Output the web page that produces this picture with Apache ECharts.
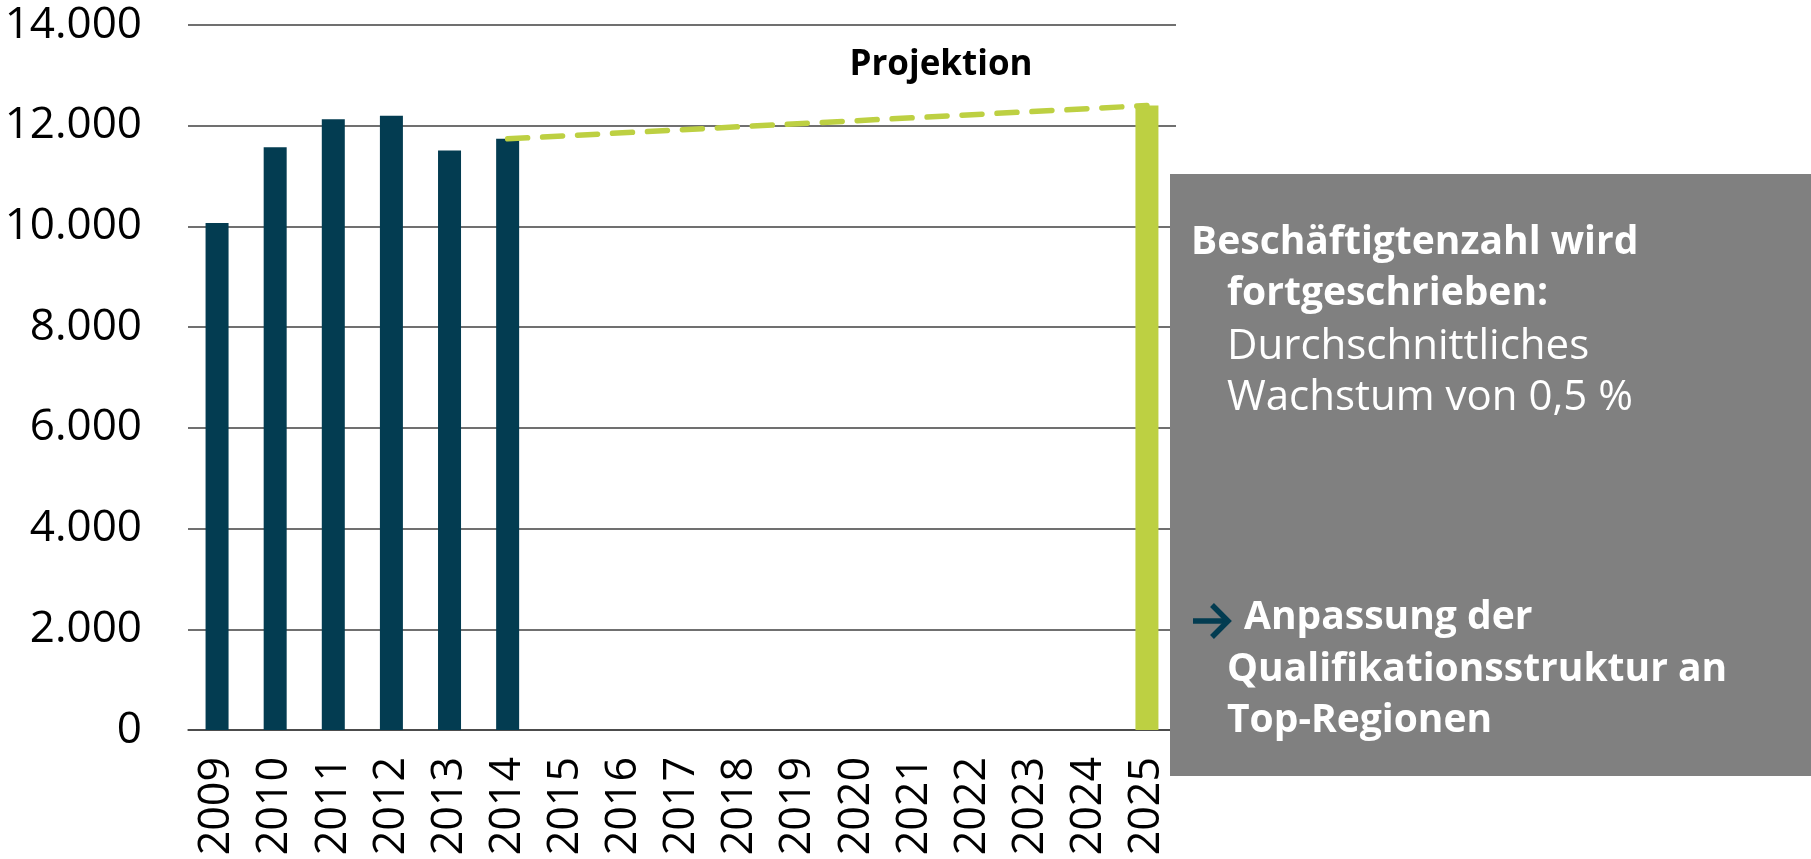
<!DOCTYPE html>
<html>
<head>
<meta charset="utf-8">
<script src="https://cdn.jsdelivr.net/npm/echarts@6/dist/echarts.min.js"></script>
<style>
  html, body { margin: 0; padding: 0; background: #fff; }
  #chart { width: 1811px; height: 859px; }
</style>
</head>
<body>
<div id="chart"></div>
<script>
// Beschäftigte 2009-2014, Projektion 2025
const years = ['2009', '2010', '2011', '2012', '2013', '2014', '2015', '2016', '2017',
  '2018', '2019', '2020', '2021', '2022', '2023', '2024', '2025'];
const actual = [10070, 11570, 12130, 12200, 11510, 11740, null, null, null,
  null, null, null, null, null, null, null, null];
const projected = [null, null, null, null, null, null, null, null, null,
  null, null, null, null, null, null, null, 12400];
const trend = [null, null, null, null, null, 11740, null, null, null,
  null, null, null, null, null, null, null, 12400];
const yMax = 14000;
const yStep = 2000;

const DARK = '#033c51';
const GREEN = '#bdd042';
const FONT = '"Open Sans", sans-serif';

const fmt = v => String(v).replace(/\B(?=(\d{3})+(?!\d))/g, '.');

const chart = echarts.init(document.getElementById('chart'));

const txt = (text, x, y, opts) => Object.assign({
  type: 'text',
  z: 110,
  style: Object.assign({
    text, x, y,
    fill: '#fff',
    fontFamily: FONT,
    fontSize: 39,
    fontWeight: 'bold',
    verticalAlign: 'middle'
  }, opts || {})
});

// pfeil vor "Anpassung der"
const arrowStyle = { stroke: DARK, lineWidth: 5.5, lineCap: 'butt', lineJoin: 'miter', fill: null };

chart.setOption({
  animation: false,
  grid: { left: 188, right: 635, top: 25, bottom: 129 },
  xAxis: {
    type: 'category',
    data: years,
    axisTick: { show: false },
    axisLine: { lineStyle: { color: '#404040', width: 1.5 } },
    axisLabel: { rotate: 90, margin: 27, color: '#000', fontFamily: FONT, fontSize: 43 }
  },
  yAxis: {
    type: 'value',
    min: 0,
    max: yMax,
    interval: yStep,
    axisLine: { show: false },
    axisTick: { show: false },
    splitLine: { lineStyle: { color: '#404040', width: 1.5 } },
    axisLabel: { margin: 46, color: '#000', fontFamily: FONT, fontSize: 44, formatter: fmt }
  },
  series: [
    { type: 'bar', stack: 'b', data: actual, barWidth: 23, itemStyle: { color: DARK } },
    { type: 'bar', stack: 'b', data: projected, barWidth: 23, itemStyle: { color: GREEN } },
    {
      type: 'line', data: trend, connectNulls: true, symbol: 'none', z: 3,
      lineStyle: { color: GREEN, width: 5.5, type: [20, 15], cap: 'round' }
    }
  ],
  graphic: [
    { type: 'rect', z: 100, shape: { x: 1170, y: 174, width: 641, height: 602 }, style: { fill: '#808080' } },
    txt('Projektion', 941, 65, { fill: '#000', fontSize: 35, align: 'center' }),
    txt('Beschäftigtenzahl wird', 1191, 243),
    txt('fortgeschrieben:', 1227, 294),
    txt('Durchschnittliches', 1227, 347, { fontWeight: 'normal', fontSize: 42 }),
    txt('Wachstum von 0,5 %', 1227, 398, { fontWeight: 'normal', fontSize: 42 }),
    { type: 'polyline', z: 110, shape: { points: [[1193, 621], [1226, 621]] }, style: arrowStyle },
    { type: 'polyline', z: 110, shape: { points: [[1212, 605], [1228, 621], [1212, 637]] }, style: arrowStyle },
    txt('Anpassung der', 1244, 618),
    txt('Qualifikationsstruktur an', 1227, 670),
    txt('Top-Regionen', 1227, 721)
  ]
});
</script>
</body>
</html>
